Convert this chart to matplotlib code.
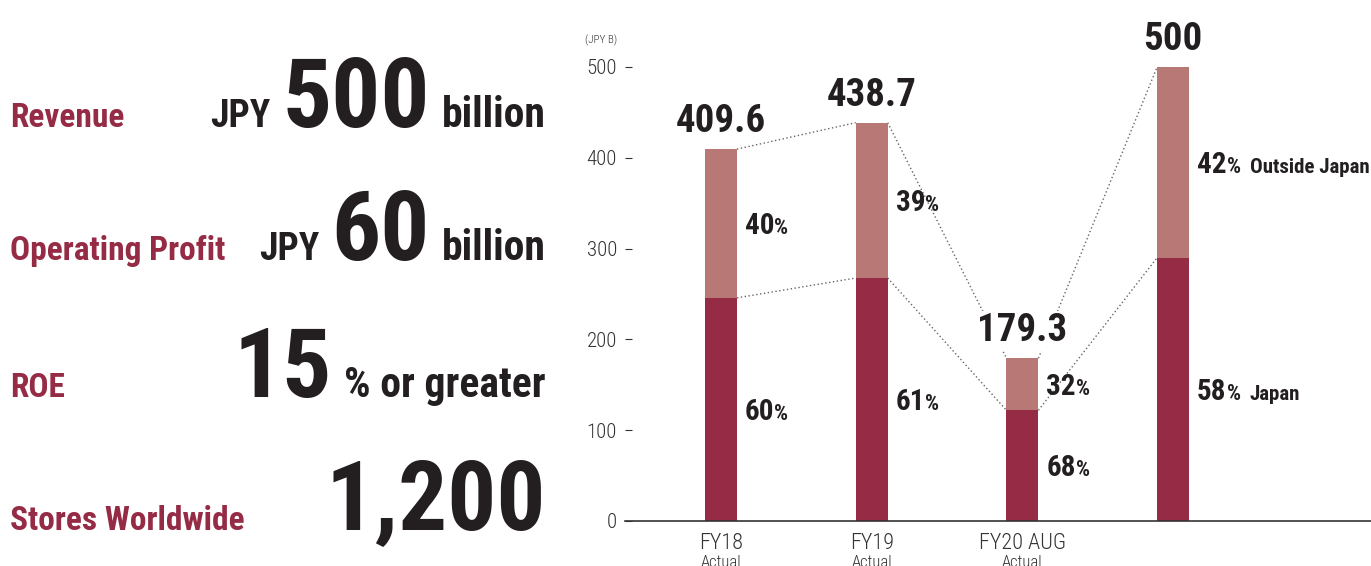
import matplotlib
matplotlib.use('Agg')
import matplotlib.pyplot as plt
import matplotlib.transforms as mtransforms

# chart data
periods = ['FY18', 'FY19', 'FY20 AUG', '']
sub_labels = ['Actual', 'Actual', 'Actual', '']
totals = [409.6, 438.7, 179.3, 500]
japan_share = [60, 61, 68, 58]
outside_share = [40, 39, 32, 42]
yticks = [0, 100, 200, 300, 400, 500]

# KPI targets on the left
kpi_names = ['Revenue', 'Operating Profit', 'ROE', 'Stores Worldwide']
kpi_prefix = ['JPY', 'JPY', '', '']
kpi_values = ['500', '60', '15', '1,200']
kpi_suffix = ['billion', 'billion', '% or greater', '']

FONT = ['Roboto Condensed', 'Archivo Narrow', 'DejaVu Sans']
DARK = '#231f20'
RED = '#952b45'
PINK = '#b87876'

W, H = 1371, 566
fig = plt.figure(figsize=(W / 100, H / 100), dpi=100)
renderer = fig.canvas.get_renderer()
ident = mtransforms.IdentityTransform()

# axes placed in pixels: x axis at y=521 from top, 0.908 px per JPY B
ymax = 540
ax = fig.add_axes([625 / W, (H - 521) / H, (W - 625) / W, ymax * 0.908 / H])

x = list(range(len(totals)))
japan = [t * s / 100 for t, s in zip(totals, japan_share)]
outside = [t - j for t, j in zip(totals, japan)]
bw = 0.212

ax.bar(x, japan, width=bw, color=RED, zorder=2)
ax.bar(x, outside, bottom=japan, width=bw, color=PINK, zorder=2)

# dotted connectors between bar corners
for i in range(len(x) - 1):
    for ser in (totals, japan):
        ax.plot([x[i] + bw / 2, x[i + 1] - bw / 2], [ser[i], ser[i + 1]],
                color='#666666', lw=1.0, ls=(0, (1, 1.8)), zorder=1)

ax.set_xlim(-0.637, 4.313)
ax.set_ylim(0, ymax)
for s in ('top', 'right', 'left'):
    ax.spines[s].set_visible(False)
ax.spines['bottom'].set_color('#333333')
ax.spines['bottom'].set_linewidth(1.2)
ax.set_xticks([])
ax.set_yticks(yticks)
ax.set_yticklabels([str(v) for v in yticks], family=FONT, fontsize=15,
                   fontweight='light', color='#333333')
ax.tick_params(axis='y', direction='in', length=5, width=0.8, color='#333333', pad=5.8)

# totals above the bars
for xi, t in zip(x, totals):
    ax.annotate(f'{t:g}', xy=(xi, t), xytext=(0, 17), textcoords='offset pixels',
                ha='center', va='baseline', family=FONT, fontsize=28,
                fontweight='bold', color=DARK, zorder=4,
                bbox=dict(facecolor='white', edgecolor='none', pad=1))

# period labels under the axis
for xi, p, sl in zip(x, periods, sub_labels):
    ax.annotate(p, xy=(xi, 0), xytext=(0, -28), textcoords='offset pixels',
                ha='center', va='baseline', family=FONT, fontsize=16,
                fontweight='light', color='#333333', annotation_clip=False)
    ax.annotate(sl, xy=(xi, 0), xytext=(0, -46), textcoords='offset pixels',
                ha='center', va='baseline', family=FONT, fontsize=12,
                fontweight='light', color='#333333', annotation_clip=False)

fig.text(585, H - 43, '(JPY B)', transform=ident, family=FONT, fontsize=8,
         fontweight='light', color='#333333')


def chain_left(x0, y0, parts):
    # parts: (text, size, gap_before) placed left to right on one baseline
    xc = x0
    for s, size, gap in parts:
        xc += gap
        t = fig.text(xc, y0, s, transform=ident, ha='left', va='baseline',
                     family=FONT, fontsize=size, fontweight='bold', color=DARK)
        xc = t.get_window_extent(renderer).x1


def chain_right(x1, y0, parts):
    # parts: (text, size, gap_before) placed right to left on one baseline
    xc = x1
    for s, size, gap in reversed(parts):
        if not s:
            continue
        t = fig.text(xc, y0, s, transform=ident, ha='right', va='baseline',
                     family=FONT, fontsize=size, fontweight='bold', color=DARK)
        xc = t.get_window_extent(renderer).x0 - gap


# share labels beside each segment
legend_names = ['Japan', 'Outside Japan']
for i, xi in enumerate(x):
    xr = ax.transData.transform((xi + bw / 2, 0))[0] + 8
    for k, (lo, hi, sh) in enumerate([(0, japan[i], japan_share[i]),
                                      (japan[i], totals[i], outside_share[i])]):
        ymid = ax.transData.transform((0, (lo + hi) / 2))[1]
        parts = [(str(sh), 21, 0), ('%', 16, 0)]
        if i == len(x) - 1:
            parts.append((legend_names[k], 15, 9))
        chain_left(xr, ymid - 0.36 * 21 * 100 / 72, parts)

# KPI block
baselines = [127, 260, 397, 530]
for name, pre, val, suf, b in zip(kpi_names, kpi_prefix, kpi_values, kpi_suffix, baselines):
    fig.text(10, H - b, name, transform=ident, ha='left', va='baseline',
             family=FONT, fontsize=24, fontweight='bold', color=RED)
    chain_right(546, H - b, [(pre, 27, 0), (val, 70, 12), (suf, 30, 12)])

fig.savefig('out.png', dpi=100)
